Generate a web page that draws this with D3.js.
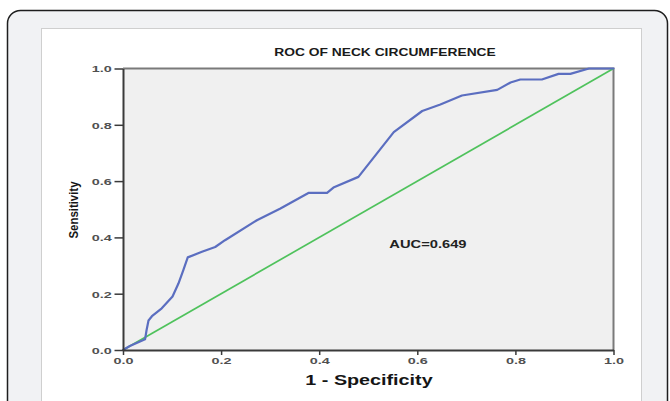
<!DOCTYPE html>
<html>
<head>
<meta charset="utf-8">
<script src="https://cdn.jsdelivr.net/npm/d3@7"></script>
<style>
  html, body { margin: 0; padding: 0; background: #ffffff; }
  svg { display: block; }
  text { font-family: "Liberation Sans", Arial, sans-serif; }
</style>
</head>
<body>
<svg id="chart" width="670" height="401"></svg>
<script>
// ---- data ----
const rocFpr = [0, 0.014, 0.045, 0.048, 0.052, 0.059, 0.079, 0.101, 0.113, 0.123, 0.132, 0.161, 0.188, 0.208,
                0.273, 0.320, 0.378, 0.416, 0.429, 0.480, 0.552, 0.610, 0.647, 0.691, 0.763, 0.790, 0.810,
                0.854, 0.888, 0.912, 0.950, 1.0];
const rocTpr = [0, 0.014, 0.038, 0.070, 0.105, 0.120, 0.148, 0.190, 0.236, 0.284, 0.329, 0.349, 0.366, 0.390,
                0.461, 0.502, 0.558, 0.558, 0.577, 0.615, 0.774, 0.849, 0.872, 0.904, 0.924, 0.950, 0.961,
                0.961, 0.981, 0.981, 1.0, 1.0];
const refLine = [[0, 0], [1, 1]];
const xTicks = [0, 0.2, 0.4, 0.6, 0.8, 1.0];
const yTicks = [0, 0.2, 0.4, 0.6, 0.8, 1.0];
const titleText = "ROC OF NECK CIRCUMFERENCE";
const xLabel = "1 - Specificity";
const yLabel = "Sensitivity";
const aucText = "AUC=0.649";

// ---- layout ----
const svg = d3.select("#chart");
const plot = { left: 123, right: 613.5, top: 68.5, bottom: 350 };
const SX = 1.42; // horizontal stretch of the text in the reference

// outer rounded frame
svg.append("rect")
  .attr("x", 7.5).attr("y", 10.5).attr("width", 660).attr("height", 420)
  .attr("rx", 13).attr("ry", 13)
  .attr("fill", "#f1f2f4").attr("stroke", "#1e1e1e").attr("stroke-width", 1.5);

// inner white panel
svg.append("rect")
  .attr("x", 41.5).attr("y", 28.5).attr("width", 600).attr("height", 400)
  .attr("fill", "#ffffff").attr("stroke", "#cfcfcf").attr("stroke-width", 1);

const x = d3.scaleLinear().domain([0, 1]).range([plot.left, plot.right]);
const y = d3.scaleLinear().domain([0, 1]).range([plot.bottom, plot.top]);

// plot background
svg.append("rect")
  .attr("x", plot.left).attr("y", plot.top)
  .attr("width", plot.right - plot.left).attr("height", plot.bottom - plot.top)
  .attr("fill", "#f0f0f0");

// top & right frame lines
svg.append("path")
  .attr("d", `M${plot.left},${plot.top}H${plot.right}V${plot.bottom}`)
  .attr("fill", "none").attr("stroke", "#7a7a7a").attr("stroke-width", 2);

// reference diagonal
const line = d3.line().x(d => x(d[0])).y(d => y(d[1]));
svg.append("path")
  .datum(refLine)
  .attr("d", line)
  .attr("fill", "none").attr("stroke", "#4fc25c").attr("stroke-width", 1.7);

// ROC curve
const rocData = rocFpr.map((f, i) => [f, rocTpr[i]]);
svg.append("path")
  .datum(rocData)
  .attr("d", line)
  .attr("fill", "none").attr("stroke", "#5b6ec0").attr("stroke-width", 2.2)
  .attr("stroke-linejoin", "round").attr("stroke-linecap", "round");

// axes
const fmt = d3.format(".1f");
const xAxis = svg.append("g")
  .attr("transform", `translate(0,${plot.bottom})`)
  .call(d3.axisBottom(x).tickValues(xTicks).tickFormat(fmt).tickSize(5).tickSizeOuter(0));
const yAxis = svg.append("g")
  .attr("transform", `translate(${plot.left},0)`)
  .call(d3.axisLeft(y).tickValues(yTicks).tickFormat(fmt).tickSize(8.5).tickSizeOuter(0));

[xAxis, yAxis].forEach(a => {
  a.select(".domain").attr("stroke", "#3a3a3a").attr("stroke-width", 2);
  a.selectAll(".tick line").attr("stroke", "#3a3a3a").attr("stroke-width", 1.5);
  a.selectAll(".tick text")
    .attr("font-family", "'Liberation Sans', Arial, sans-serif")
    .attr("font-size", 9.8).attr("font-weight", "bold")
    .attr("fill", "#505050");
});
xAxis.selectAll(".tick text")
  .attr("y", 14.2).attr("dy", 0)
  .attr("transform", `scale(${SX + 0.05},1)`);
yAxis.selectAll(".tick text")
  .attr("x", -11.3 / (SX + 0.05)).attr("dy", "0.35em")
  .attr("transform", `scale(${SX + 0.05},1)`);

// stretched text helper
function stext(str, tx, ty, size, anchor, sx) {
  return svg.append("text")
    .attr("transform", `translate(${tx},${ty}) scale(${sx},1)`)
    .attr("text-anchor", anchor)
    .attr("font-size", size).attr("font-weight", "bold")
    .attr("fill", "#151515")
    .text(str);
}

stext(titleText, 385, 56, 10, "middle", 1.38).attr("fill", "#1a1a1a");
stext(xLabel, 369, 385, 14, "middle", 1.41);
stext(aucText, 389.3, 248, 10.5, "start", 1.4).attr("fill", "#222");

// y label
svg.append("text")
  .attr("transform", `translate(77.5,210) rotate(-90)`)
  .attr("text-anchor", "middle")
  .attr("font-size", 13).attr("font-weight", "bold")
  .attr("fill", "#151515")
  .attr("textLength", 57).attr("lengthAdjust", "spacingAndGlyphs")
  .text(yLabel);
</script>
</body>
</html>
